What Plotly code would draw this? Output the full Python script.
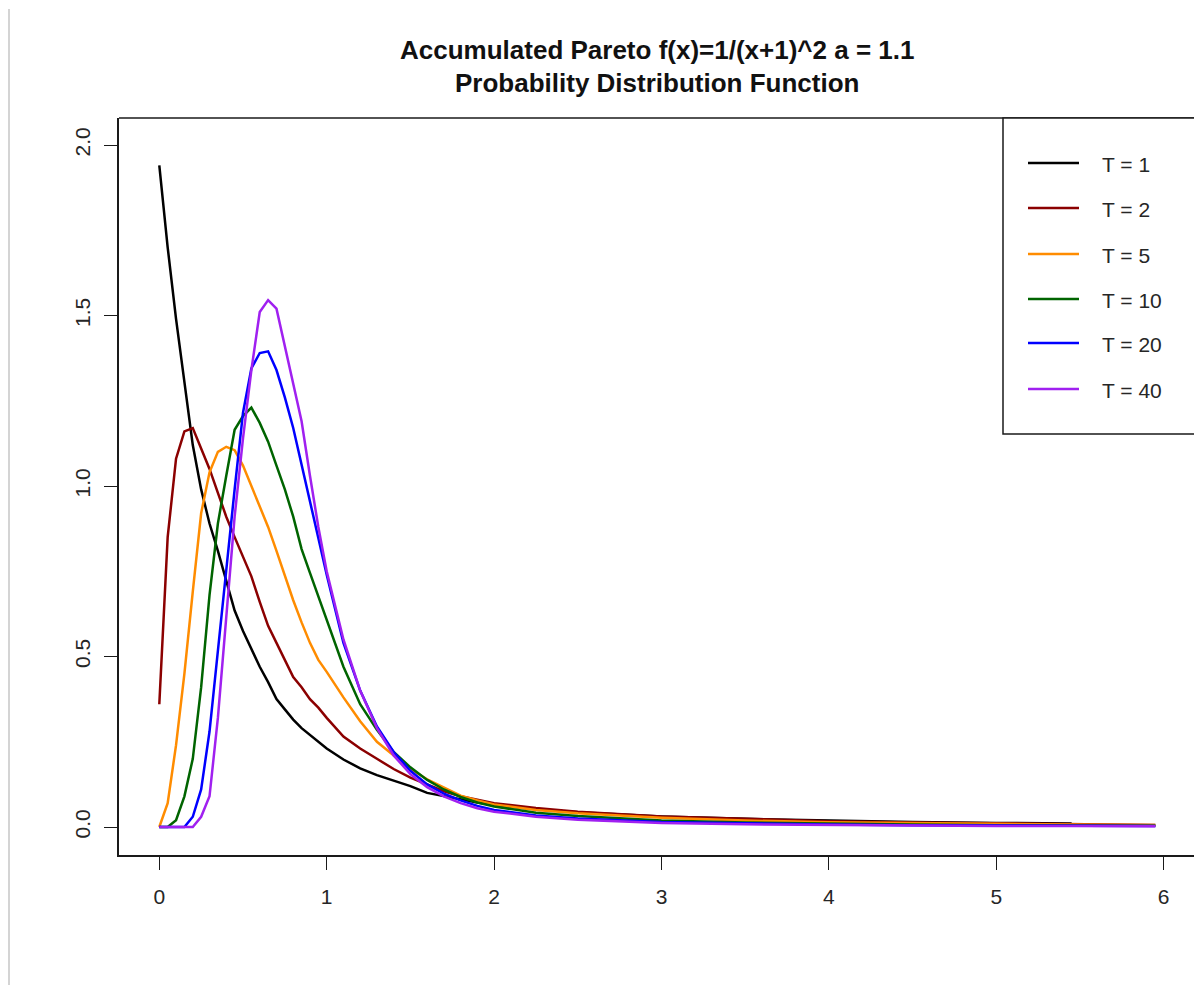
import plotly.graph_objects as go

# Grid of x positions where each density curve is sampled
x_vals = [0.0, 0.05, 0.1, 0.15, 0.2, 0.25, 0.3, 0.35, 0.4, 0.45, 0.5,
          0.55, 0.6, 0.65, 0.7, 0.75, 0.8, 0.85, 0.9, 0.95, 1.0,
          1.1, 1.2, 1.3, 1.4, 1.5, 1.6, 1.7, 1.8, 1.9, 2.0,
          2.25, 2.5, 3.0, 3.5, 4.0, 4.5, 5.0, 5.45, 5.95]

t1 = [1.94, 1.70, 1.49, 1.30, 1.12, 0.99, 0.89, 0.81, 0.72, 0.635, 0.575,
      0.52, 0.47, 0.425, 0.375, 0.345, 0.315, 0.29, 0.27, 0.25, 0.23,
      0.198, 0.172, 0.152, 0.135, 0.12, 0.10, 0.09, 0.08, 0.072, 0.065,
      0.052, 0.043, 0.031, 0.024, 0.019, 0.015, 0.012, 0.010, None]

t2 = [0.36, 0.85, 1.08, 1.16, 1.17, 1.11, 1.05, 0.98, 0.91, 0.85, 0.79,
      0.735, 0.66, 0.59, 0.54, 0.49, 0.44, 0.41, 0.375, 0.35, 0.32,
      0.265, 0.23, 0.20, 0.17, 0.145, 0.125, 0.105, 0.09, 0.08, 0.07,
      0.056, 0.045, 0.031, 0.023, 0.017, 0.013, 0.010, 0.008, 0.006]

t5 = [0.0, 0.07, 0.24, 0.45, 0.69, 0.92, 1.04, 1.10, 1.115, 1.105, 1.06,
      1.00, 0.94, 0.88, 0.81, 0.735, 0.665, 0.60, 0.54, 0.49, 0.455,
      0.38, 0.31, 0.25, 0.21, 0.17, 0.14, 0.115, 0.092, 0.078, 0.066,
      0.050, 0.040, 0.027, 0.019, 0.014, 0.011, 0.008, 0.007, 0.006]

t10 = [0.0, 0.0, 0.02, 0.09, 0.20, 0.41, 0.68, 0.89, 1.03, 1.165, 1.205,
       1.23, 1.185, 1.13, 1.06, 0.99, 0.91, 0.815, 0.745, 0.675, 0.61,
       0.47, 0.36, 0.285, 0.22, 0.175, 0.138, 0.11, 0.088, 0.072, 0.06,
       0.042, 0.032, 0.019, 0.013, 0.009, 0.007, 0.005, 0.004, 0.004]

t20 = [0.0, 0.0, 0.0, 0.0, 0.03, 0.11, 0.28, 0.52, 0.76, 0.99, 1.215,
       1.345, 1.39, 1.395, 1.34, 1.26, 1.17, 1.06, 0.95, 0.84, 0.74,
       0.54, 0.40, 0.295, 0.22, 0.165, 0.125, 0.098, 0.078, 0.062, 0.05,
       0.034, 0.025, 0.015, 0.010, 0.007, 0.005, 0.004, 0.003, 0.003]

t40 = [0.0, 0.0, 0.0, 0.0, 0.0, 0.03, 0.09, 0.32, 0.62, 0.91, 1.14,
       1.34, 1.51, 1.545, 1.52, 1.41, 1.31, 1.19, 1.03, 0.88, 0.75,
       0.55, 0.40, 0.29, 0.21, 0.155, 0.117, 0.09, 0.07, 0.055, 0.045,
       0.030, 0.021, 0.012, 0.008, 0.006, 0.004, 0.003, 0.003, 0.002]

series_names = ["T = 1", "T = 2", "T = 5", "T = 10", "T = 20", "T = 40"]
series_values = [t1, t2, t5, t10, t20, t40]
series_colors = ["#000000", "#8B0000", "#FF8C00", "#006400", "#0000FF", "#A020F0"]

x_ticks = [0, 1, 2, 3, 4, 5, 6]
y_ticks = [0.0, 0.5, 1.0, 1.5, 2.0]
y_tick_labels = ["0.0", "0.5", "1.0", "1.5", "2.0"]

title_lines = ["Accumulated Pareto f(x)=1/(x+1)^2 a = 1.1",
               "Probability Distribution Function"]

W, H = 1194, 985
L, T, B = 119, 118, 855          # plot region edges in pixels
PW, PH = W - L, B - T

def px(xp):
    return (xp - L) / PW

def py(yp):
    return (B - yp) / PH

FONT = "Liberation Sans, Arial, sans-serif"
INK = "#1a1a1a"
TEXT = "#262626"

fig = go.Figure()
for name, vals, col in zip(series_names, series_values, series_colors):
    fig.add_trace(go.Scatter(x=x_vals, y=vals, mode="lines", name=name,
                             line=dict(color=col, width=2.5),
                             connectgaps=False, showlegend=False))

shapes = []
# frame top edge (the right edge runs off the page)
shapes.append(dict(type="line", xref="paper", yref="paper", x0=0, x1=1.01, y0=1, y1=1,
                   line=dict(color=INK, width=1.5)))
# thin page rule on the far left
shapes.append(dict(type="line", xref="paper", yref="paper", x0=px(9), x1=px(9),
                   y0=py(9), y1=py(990), line=dict(color="#d4d4d4", width=2)))
# legend box
shapes.append(dict(type="rect", xref="paper", yref="paper", x0=px(1003), x1=px(1200),
                   y0=py(434), y1=1, line=dict(color=INK, width=1.5),
                   fillcolor="white", layer="above"))

annotations = []
row_y = [163, 208, 254, 299, 343, 389]
for name, col, ry in zip(series_names, series_colors, row_y):
    shapes.append(dict(type="line", xref="paper", yref="paper", x0=px(1028), x1=px(1079),
                       y0=py(ry), y1=py(ry), line=dict(color=col, width=2.5), layer="above"))
    annotations.append(dict(xref="paper", yref="paper", x=px(1100), y=py(ry + 1),
                            text=name, showarrow=False, xanchor="left", yanchor="middle",
                            font=dict(family=FONT, size=21, color=TEXT)))

annotations.append(dict(xref="paper", yref="paper", x=0.5, y=py(50),
                        text="<b>" + title_lines[0] + "</b>", showarrow=False,
                        xanchor="center", yanchor="middle",
                        font=dict(family=FONT, size=26, color="#111111")))
annotations.append(dict(xref="paper", yref="paper", x=0.5, y=py(83),
                        text="<b>" + title_lines[1] + "</b>", showarrow=False,
                        xanchor="center", yanchor="middle",
                        font=dict(family=FONT, size=26, color="#111111")))

x0_px, x_unit = 159.3, 167.4
y0_px, y_unit = 827.0, 341.0

fig.update_layout(
    width=W, height=H,
    margin=dict(l=L, r=0, t=T, b=H - B, pad=0),
    paper_bgcolor="white", plot_bgcolor="white",
    shapes=shapes, annotations=annotations,
    showlegend=False,
    xaxis=dict(range=[(L - x0_px) / x_unit, (W - x0_px) / x_unit],
               tickvals=x_ticks, ticktext=[str(v) for v in x_ticks],
               ticks="outside", ticklen=13, tickwidth=1.3, tickcolor=INK,
               showline=True, linecolor=INK, linewidth=1.5,
               showgrid=False, zeroline=False, ticklabelstandoff=9,
               tickfont=dict(family=FONT, size=21, color=TEXT)),
    yaxis=dict(range=[(y0_px - B) / y_unit, (y0_px - T) / y_unit],
               tickvals=y_ticks, ticktext=y_tick_labels, tickangle=-90,
               ticks="outside", ticklen=13, tickwidth=1.3, tickcolor=INK,
               showline=True, linecolor=INK, linewidth=1.5,
               showgrid=False, zeroline=False, ticklabelstandoff=6,
               tickfont=dict(family=FONT, size=21, color=TEXT)),
)

fig.write_html("out.html")
